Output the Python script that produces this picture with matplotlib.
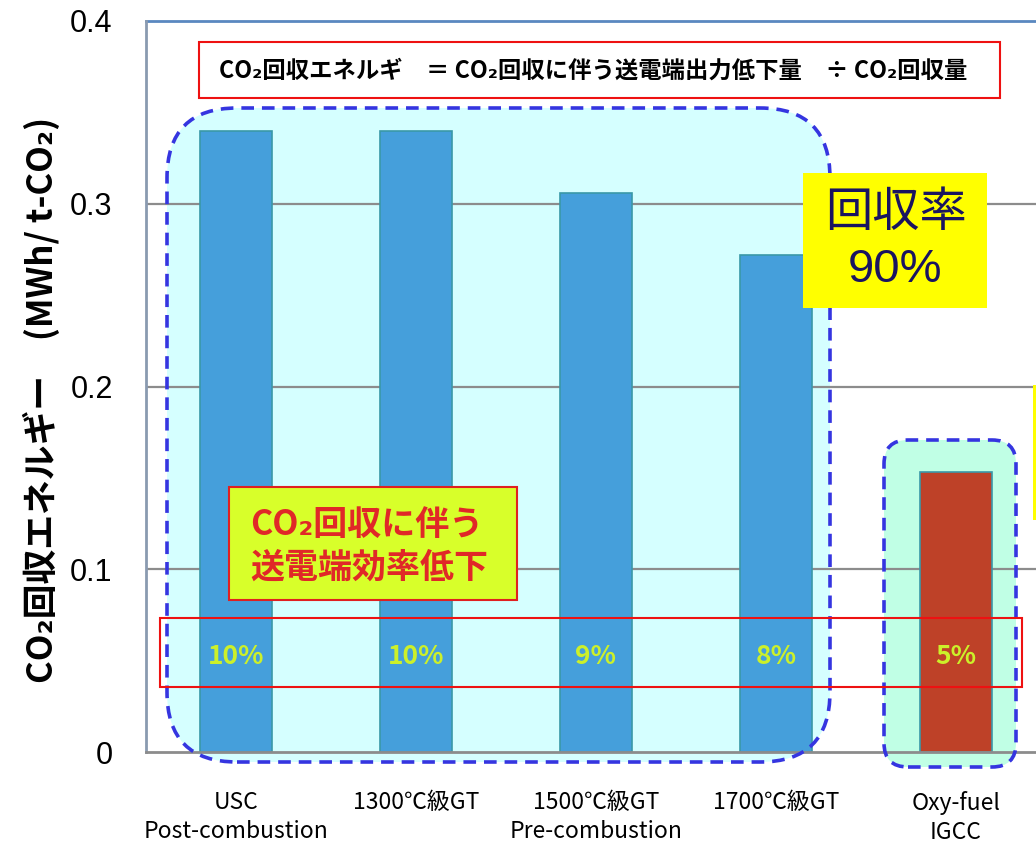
import matplotlib
matplotlib.use("Agg")
import matplotlib.pyplot as plt
from matplotlib.patches import FancyBboxPatch, Rectangle

plt.rcParams['font.family'] = ['Noto Sans CJK JP', 'DejaVu Sans']

# --- data ---
categories = ['USC\nPost-combustion', '1300℃級GT', '1500℃級GT\nPre-combustion',
              '1700℃級GT', 'Oxy-fuel\nIGCC']
energy = [0.340, 0.340, 0.306, 0.272, 0.153]
efficiency_drop = ['10%', '10%', '9%', '8%', '5%']
bar_colors = ['#459FDB', '#459FDB', '#459FDB', '#459FDB', '#BE4128']
y_ticks = [0, 0.1, 0.2, 0.3, 0.4]
y_tick_labels = ['0', '0.1', '0.2', '0.3', '0.4']

W, H = 1036, 843
fig = plt.figure(figsize=(W / 100, H / 100), dpi=100)
ax = fig.add_axes([146 / W, 91 / H, 1 - 146 / W, (752 - 21) / H])


def px_box(x0, y0, x1, y1):
    # pixel box (top-left origin) -> inches box (bottom-left origin)
    return x0 / 100, (H - y1) / 100, (x1 - x0) / 100, (y1 - y0) / 100


def rounded(x0, y0, x1, y1, r, face):
    bx, by, bw, bh = px_box(x0, y0, x1, y1)
    style = f"round,pad=0,rounding_size={r / 100}"
    ax.add_patch(FancyBboxPatch((bx, by), bw, bh, boxstyle=style,
                                transform=fig.dpi_scale_trans, fc=face, ec='none',
                                zorder=0.5, clip_on=False))
    ax.add_patch(FancyBboxPatch((bx, by), bw, bh, boxstyle=style,
                                transform=fig.dpi_scale_trans, fc='none', ec='#3535E0',
                                lw=2.6, ls=(0, (3.5, 2.2)), zorder=4, clip_on=False))


# highlighted groups
rounded(167, 108, 830, 762, 70, '#D5FFFF')
rounded(884, 440, 1016, 767, 24, '#C0FFE5')

x = list(range(len(categories)))
ax.bar(x, energy, width=0.4, color=bar_colors, edgecolor='#3A98A8', linewidth=1.2, zorder=2)

for xi, lab in zip(x, efficiency_drop):
    ax.text(xi, 0.0525, lab, ha='center', va='center', fontsize=19,
            fontweight='bold', color='#CCF02A', zorder=5)

ax.set_xlim(-0.5, (W - 236) / 180)
ax.set_ylim(0, 0.4)
ax.set_yticks(y_ticks)
ax.set_yticklabels(y_tick_labels, fontsize=22, family=['Liberation Sans', 'DejaVu Sans'])
ax.set_xticks(x)
ax.set_xticklabels(categories, fontsize=16.5, linespacing=1.35)
ax.tick_params(axis='both', length=0)
ax.tick_params(axis='y', pad=24)
ax.tick_params(axis='x', pad=28)

for yv in y_ticks[1:4]:
    ax.axhline(yv, color='#8C8C8C', lw=1.6, zorder=1)
ax.axhline(0.4, color='#5A88C0', lw=2, zorder=1, clip_on=False)

for s in ['top', 'right']:
    ax.spines[s].set_visible(False)
ax.spines['left'].set_color('#8A9AB0')
ax.spines['left'].set_linewidth(2)
ax.spines['bottom'].set_color('#8C8C8C')
ax.spines['bottom'].set_linewidth(2)
ax.spines['bottom'].set_zorder(3)

ax.set_ylabel('CO₂回収エネルギー　(MWh/ t-CO₂)', fontsize=25, fontweight='bold')
ax.yaxis.set_label_coords(-(146 - 60) / (W - 146), (752 - 400) / (752 - 21))

# red frame around percentage labels
bx, by, bw, bh = px_box(160, 618, 1022, 687)
ax.add_patch(Rectangle((bx, by), bw, bh, transform=fig.dpi_scale_trans, fc='none',
                       ec='#EE1111', lw=1.5, zorder=4.5, clip_on=False))

# formula box
bx, by, bw, bh = px_box(199, 42, 1000, 98)
ax.add_patch(Rectangle((bx, by), bw, bh, transform=fig.dpi_scale_trans, fc='white',
                       ec='#EE1111', lw=1.5, zorder=6, clip_on=False))
fig.text(593 / W, 1 - 71 / H, 'CO₂回収エネルギ　＝ CO₂回収に伴う送電端出力低下量　÷ CO₂回収量',
         ha='center', va='center', fontsize=16.8, fontweight='bold', color='black', zorder=7)

# recovery rate box
bx, by, bw, bh = px_box(803, 173, 987, 308)
ax.add_patch(Rectangle((bx, by), bw, bh, transform=fig.dpi_scale_trans, fc='#FFFF00',
                       ec='none', zorder=6, clip_on=False))
fig.text(896 / W, 1 - 213 / H, '回収率', ha='center', va='center', fontsize=34,
         color='#1A1460', zorder=7)
fig.text(895 / W, 1 - 270 / H, '90%', ha='center', va='center', fontsize=34,
         color='#1A1460', family=['Liberation Sans', 'DejaVu Sans'], zorder=7)

# partial yellow box at right edge
bx, by, bw, bh = px_box(1033, 385, 1040, 520)
ax.add_patch(Rectangle((bx, by), bw, bh, transform=fig.dpi_scale_trans, fc='#FFFF00',
                       ec='none', zorder=6, clip_on=False))

# efficiency drop note
bx, by, bw, bh = px_box(229, 487, 517, 600)
ax.add_patch(Rectangle((bx, by), bw, bh, transform=fig.dpi_scale_trans, fc='#D8FF2A',
                       ec='#E02020', lw=1.5, zorder=6, clip_on=False))
fig.text(250 / W, 1 - 525 / H, 'CO₂回収に伴う', ha='left', va='center', fontsize=24.5,
         fontweight='bold', color='#E02828', zorder=7)
fig.text(250 / W, 1 - 567 / H, '送電端効率低下', ha='left', va='center', fontsize=24.5,
         fontweight='bold', color='#E02828', zorder=7)

fig.savefig('out.png', dpi=100)
